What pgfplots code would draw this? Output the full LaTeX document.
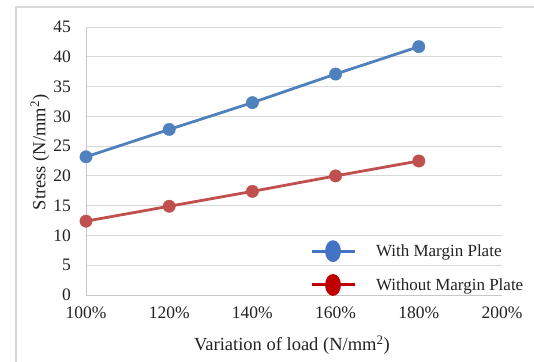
\documentclass[border=0pt]{standalone}
\usepackage{fontspec}
\setmainfont{Liberation Serif}
\usepackage{pgfplots}
\pgfplotsset{compat=1.18}

\definecolor{seriesblue}{HTML}{4F81BD}
\definecolor{seriesred}{HTML}{C0504D}
\definecolor{keyblue}{HTML}{4472C4}
\definecolor{keyred}{HTML}{C00000}
\definecolor{gridgray}{HTML}{D9D9D9}
\definecolor{axisgray}{HTML}{C8C8C8}
\definecolor{textgray}{HTML}{222222}

\begin{document}
\begin{tikzpicture}[x=1pt,y=1pt]
\useasboundingbox (0,0) rectangle (534,361);
% chart area frame (runs past the page on the right and bottom)
\draw[gridgray, line width=1.6pt] (16,354) rectangle (620,-60);
\begin{axis}[
  at={(86pt,66pt)}, anchor=south west,
  scale only axis, width=416pt, height=268pt,
  xmin=100, xmax=200, ymin=0, ymax=45,
  xtick={100,120,...,200},
  xticklabels={100\%,120\%,140\%,160\%,180\%,200\%},
  ytick={0,5,...,45},
  axis lines=left,
  axis line style={-, axisgray, line width=0.9pt},
  major tick length=0pt,
  ymajorgrids,
  grid style={gridgray, line width=0.9pt},
  /pgf/number format/assume math mode=true,
  tick label style={font=\fontsize{17.5}{17.5}\selectfont, text=textgray, inner sep=0pt},
  yticklabel shift=15pt,
  xticklabel shift=12pt,
  xlabel={Variation of load (N/mm\textsuperscript{2})},
  ylabel={Stress (N/mm\textsuperscript{2})},
  every axis x label/.style={at={(axis description cs:0.495,0)}, yshift=-50pt, anchor=center,
    font=\fontsize{18.5}{18.5}\selectfont, text=textgray},
  every axis y label/.style={at={(axis description cs:0,0.532)}, xshift=-46pt, rotate=90, anchor=center,
    font=\fontsize{18.5}{18.5}\selectfont, text=textgray},
  legend style={
    at={(rel axis cs:0.538,0.205)}, anchor=north west,
    draw=none, fill=none, inner sep=0pt,
    font=\fontsize{17}{17}\selectfont, text=textgray,
    nodes={inner sep=0pt},
    row sep=12pt,
    /tikz/every odd column/.append style={column sep=20pt},
  },
  legend cell align=left,
]
\addplot[seriesblue, line width=2.8pt, mark=*, mark size=6.2pt,
  mark options={line width=0.4pt},
  legend image code/.code={
    \draw[keyblue, line width=3pt] (0pt,0pt) -- (43pt,0pt);
    \fill[keyblue] (21.5pt,0pt) ellipse[x radius=6.5pt, y radius=9.5pt];
  }]
  coordinates {(100,23.2) (120,27.8) (140,32.3) (160,37.1) (180,41.7)};
\addlegendentry{With Margin Plate}
\addplot[seriesred, line width=2.8pt, mark=*, mark size=6.2pt,
  mark options={line width=0.4pt},
  legend image code/.code={
    \draw[keyred, line width=3pt] (0pt,0pt) -- (43pt,0pt);
    \fill[keyred] (21.5pt,0pt) ellipse[x radius=6.5pt, y radius=9.5pt];
  }]
  coordinates {(100,12.4) (120,14.9) (140,17.4) (160,20.0) (180,22.5)};
\addlegendentry{Without Margin Plate}
\end{axis}
\end{tikzpicture}
\end{document}
